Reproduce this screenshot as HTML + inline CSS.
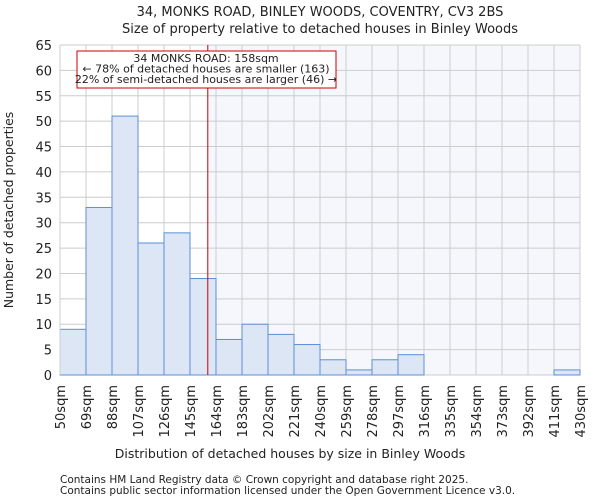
<!DOCTYPE html>
<html><head><meta charset="utf-8"><style>
body{margin:0;background:#fff;font-family:"DejaVu Sans","Liberation Sans",sans-serif;}
svg text{font-family:"DejaVu Sans","Liberation Sans",sans-serif;fill:#222;}
</style></head><body>
<svg id="chart" width="600" height="500" xmlns="http://www.w3.org/2000/svg">
<text x="320" y="16" font-size="13" text-anchor="middle">34, MONKS ROAD, BINLEY WOODS, COVENTRY, CV3 2BS</text>
<text x="320" y="33" font-size="13" text-anchor="middle">Size of property relative to detached houses in Binley Woods</text>
<g id="plot"></g>
<text x="290" y="458" font-size="12.5" text-anchor="middle">Distribution of detached houses by size in Binley Woods</text>
<text transform="translate(13,210) rotate(-90)" font-size="12.5" text-anchor="middle">Number of detached properties</text>
<text x="60" y="483" font-size="10.5" fill="#444">Contains HM Land Registry data © Crown copyright and database right 2025.</text>
<text x="60" y="494" font-size="10.5" fill="#444">Contains public sector information licensed under the Open Government Licence v3.0.</text>
</svg>
<script>
const binLabels=["50sqm","69sqm","88sqm","107sqm","126sqm","145sqm","164sqm","183sqm","202sqm","221sqm","240sqm","259sqm","278sqm","297sqm","316sqm","335sqm","354sqm","373sqm","392sqm","411sqm","430sqm"];
const binEdges=[50,69,88,107,126,145,164,183,202,221,240,259,278,297,316,335,354,373,392,411,430];
const counts=[9,33,51,26,28,19,7,10,8,6,3,1,3,4,0,0,0,0,0,1];
const yTicks=[0,5,10,15,20,25,30,35,40,45,50,55,60,65];
const propertySize=158;
const annotationLines=["34 MONKS ROAD: 158sqm","← 78% of detached houses are smaller (163)","22% of semi-detached houses are larger (46) →"];

const L=60,R=580,T=45,B=375,NS="http://www.w3.org/2000/svg";
const xS=v=>L+(v-binEdges[0])/(binEdges[binEdges.length-1]-binEdges[0])*(R-L);
const yS=v=>B-v/65*(B-T);
const g=document.getElementById('plot');
function mk(tag,attrs){const e=document.createElementNS(NS,tag);for(const k in attrs)e.setAttribute(k,attrs[k]);g.appendChild(e);return e;}
let e;
e=mk('rect',{x:xS(propertySize),y:T,width:R-xS(propertySize),height:B-T,fill:'#f5f7fd'});


yTicks.forEach(t=>{
 e=mk('line',{x1:L,x2:R,y1:yS(t),y2:yS(t),stroke:'#ccc','stroke-width':1});
 
 
 e=mk('text',{x:L-8,y:yS(t)+5,'font-size':13,'text-anchor':'end'});e.textContent=t;
 
 
});
binEdges.forEach((b,i)=>{
 e=mk('line',{x1:xS(b),x2:xS(b),y1:T,y2:B,stroke:'#ccc','stroke-width':1});
 
 
 const x=xS(b);
 e=mk('text',{x:x+5,y:B+10,'font-size':13,'text-anchor':'end',transform:`rotate(-90 ${x+5} ${B+10})`});e.textContent=binLabels[i];
 
 
});
counts.forEach((c,i)=>{
 if(c<=0)return;
 e=mk('rect',{x:xS(binEdges[i]),y:yS(c),width:xS(binEdges[i+1])-xS(binEdges[i]),height:B-yS(c),fill:'#dce6f4',stroke:'#5b8fd6','stroke-width':1});
 
 
});
e=mk('line',{x1:L,x2:L,y1:T,y2:B,stroke:'#ccc'});


e=mk('line',{x1:xS(propertySize),x2:xS(propertySize),y1:T,y2:B,stroke:'#cc0000','stroke-width':1});


e=mk('rect',{x:77,y:51,width:259,height:37,fill:'#fff',stroke:'#cc0000','stroke-width':1});


annotationLines.forEach((t,i)=>{
 e=mk('text',{x:206,y:62+i*10.5,'font-size':11,'text-anchor':'middle'});e.textContent=t;
 
 
});
</script>
</body></html>
